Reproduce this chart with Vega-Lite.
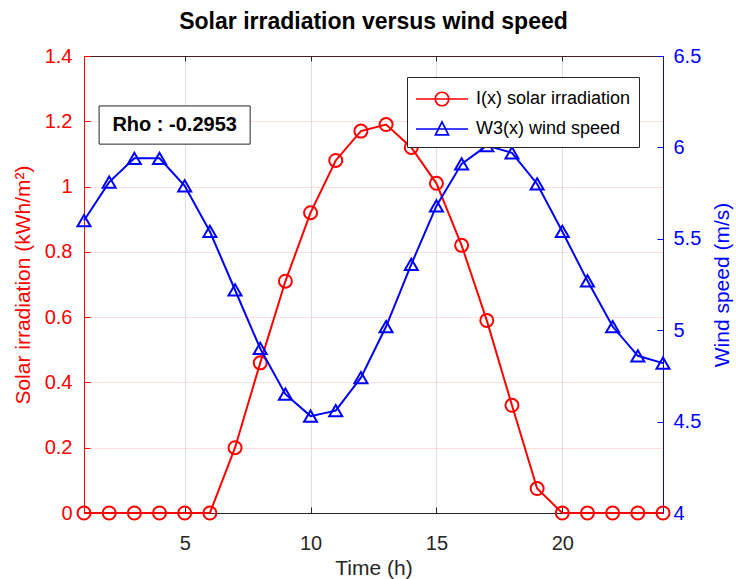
{
  "$schema": "https://vega.github.io/schema/vega-lite/v6.json",
  "width": 579,
  "height": 457,
  "autosize": {"type": "none"},
  "padding": {"left": 84, "top": 56, "right": 73, "bottom": 66},
  "background": "white",
  "title": {
    "text": "Solar irradiation versus wind speed",
    "font": "Liberation Sans",
    "fontSize": 23,
    "fontWeight": "bold",
    "color": "#000000",
    "anchor": "middle",
    "frame": "group",
    "baseline": "alphabetic",
    "offset": 25,
    "dy": 31
  },
  "config": {
    "view": {"stroke": "#262626", "strokeWidth": 1},
    "font": "Liberation Sans",
    "axis": {
      "labelFont": "Liberation Sans",
      "titleFont": "Liberation Sans",
      "labelFontSize": 20,
      "titleFontSize": 21,
      "titleFontWeight": "normal",
      "tickSize": -6,
      "tickWidth": 1,
      "domainWidth": 1,
      "labelFlush": false,
      "labelOverlap": false
    }
  },
  "data": {
    "values": [
      {"hour": 1, "series": "I(x) solar irradiation", "value": 0},
      {"hour": 2, "series": "I(x) solar irradiation", "value": 0},
      {"hour": 3, "series": "I(x) solar irradiation", "value": 0},
      {"hour": 4, "series": "I(x) solar irradiation", "value": 0},
      {"hour": 5, "series": "I(x) solar irradiation", "value": 0},
      {"hour": 6, "series": "I(x) solar irradiation", "value": 0},
      {"hour": 7, "series": "I(x) solar irradiation", "value": 0.2},
      {"hour": 8, "series": "I(x) solar irradiation", "value": 0.46},
      {"hour": 9, "series": "I(x) solar irradiation", "value": 0.71},
      {"hour": 10, "series": "I(x) solar irradiation", "value": 0.92},
      {"hour": 11, "series": "I(x) solar irradiation", "value": 1.08},
      {"hour": 12, "series": "I(x) solar irradiation", "value": 1.17},
      {"hour": 13, "series": "I(x) solar irradiation", "value": 1.19},
      {"hour": 14, "series": "I(x) solar irradiation", "value": 1.12},
      {"hour": 15, "series": "I(x) solar irradiation", "value": 1.01},
      {"hour": 16, "series": "I(x) solar irradiation", "value": 0.82},
      {"hour": 17, "series": "I(x) solar irradiation", "value": 0.59},
      {"hour": 18, "series": "I(x) solar irradiation", "value": 0.33},
      {"hour": 19, "series": "I(x) solar irradiation", "value": 0.075},
      {"hour": 20, "series": "I(x) solar irradiation", "value": 0},
      {"hour": 21, "series": "I(x) solar irradiation", "value": 0},
      {"hour": 22, "series": "I(x) solar irradiation", "value": 0},
      {"hour": 23, "series": "I(x) solar irradiation", "value": 0},
      {"hour": 24, "series": "I(x) solar irradiation", "value": 0},
      {"hour": 1, "series": "W3(x) wind speed", "value": 5.6},
      {"hour": 2, "series": "W3(x) wind speed", "value": 5.81},
      {"hour": 3, "series": "W3(x) wind speed", "value": 5.94},
      {"hour": 4, "series": "W3(x) wind speed", "value": 5.94},
      {"hour": 5, "series": "W3(x) wind speed", "value": 5.79},
      {"hour": 6, "series": "W3(x) wind speed", "value": 5.54},
      {"hour": 7, "series": "W3(x) wind speed", "value": 5.22},
      {"hour": 8, "series": "W3(x) wind speed", "value": 4.9},
      {"hour": 9, "series": "W3(x) wind speed", "value": 4.65},
      {"hour": 10, "series": "W3(x) wind speed", "value": 4.53},
      {"hour": 11, "series": "W3(x) wind speed", "value": 4.56},
      {"hour": 12, "series": "W3(x) wind speed", "value": 4.74},
      {"hour": 13, "series": "W3(x) wind speed", "value": 5.02},
      {"hour": 14, "series": "W3(x) wind speed", "value": 5.36},
      {"hour": 15, "series": "W3(x) wind speed", "value": 5.68},
      {"hour": 16, "series": "W3(x) wind speed", "value": 5.91},
      {"hour": 17, "series": "W3(x) wind speed", "value": 6.01},
      {"hour": 18, "series": "W3(x) wind speed", "value": 5.97},
      {"hour": 19, "series": "W3(x) wind speed", "value": 5.8},
      {"hour": 20, "series": "W3(x) wind speed", "value": 5.54},
      {"hour": 21, "series": "W3(x) wind speed", "value": 5.27},
      {"hour": 22, "series": "W3(x) wind speed", "value": 5.02},
      {"hour": 23, "series": "W3(x) wind speed", "value": 4.86},
      {"hour": 24, "series": "W3(x) wind speed", "value": 4.82}
    ]
  },
  "layer": [
    {
      "transform": [{"filter": "datum.series === 'I(x) solar irradiation'"}],
      "encoding": {
        "x": {
          "field": "hour",
          "type": "quantitative",
          "scale": {"domain": [1, 24], "nice": false, "zero": false},
          "axis": {
            "orient": "bottom",
            "values": [5, 10, 15, 20],
            "grid": true,
            "gridColor": "#262626",
            "gridOpacity": 0.15,
            "domainColor": "#262626",
            "tickColor": "#262626",
            "labelColor": "#262626",
            "labelPadding": 26,
            "title": "Time (h)",
            "titleColor": "#262626",
            "titleBaseline": "alphabetic",
            "titleY": 61
          }
        },
        "y": {
          "field": "value",
          "type": "quantitative",
          "scale": {"domain": [0, 1.4], "nice": false, "zero": false},
          "axis": {
            "orient": "left",
            "values": [0, 0.2, 0.4, 0.6, 0.8, 1, 1.2, 1.4],
            "format": "~g",
            "grid": true,
            "gridColor": "#ff0000",
            "gridOpacity": 0.13,
            "domainColor": "#ff0000",
            "tickColor": "#ff0000",
            "labelColor": "#ff0000",
            "labelPadding": 18,
            "title": "Solar irradiation (kWh/m²)",
            "titleColor": "#ff0000",
            "titleAngle": -90,
            "titleAlign": "center",
            "titleBaseline": "middle",
            "titleX": -61,
            "titleY": 228.5
          }
        }
      },
      "layer": [
        {"mark": {"type": "line", "color": "#ff0000", "strokeWidth": 2}},
        {"mark": {"type": "point", "shape": "circle", "color": "#ff0000", "filled": false, "size": 169, "strokeWidth": 2, "opacity": 1}}
      ]
    },
    {
      "transform": [{"filter": "datum.series === 'W3(x) wind speed'"}],
      "encoding": {
        "x": {
          "field": "hour",
          "type": "quantitative",
          "axis": {
            "orient": "top",
            "values": [5, 10, 15, 20],
            "labels": false,
            "domain": false,
            "grid": false,
            "tickColor": "#262626",
            "tickSize": -5,
            "title": null
          }
        },
        "y": {
          "field": "value",
          "type": "quantitative",
          "scale": {"domain": [4, 6.5], "nice": false, "zero": false},
          "axis": {
            "orient": "right",
            "values": [4, 4.5, 5, 5.5, 6, 6.5],
            "format": "~g",
            "grid": false,
            "domainColor": "#0000ff",
            "tickColor": "#0000ff",
            "labelColor": "#0000ff",
            "labelPadding": 16,
            "title": "Wind speed (m/s)",
            "titleColor": "#0000ff",
            "titleAngle": -90,
            "titleAlign": "center",
            "titleBaseline": "middle",
            "titleX": 59,
            "titleY": 228.5
          }
        }
      },
      "layer": [
        {"mark": {"type": "line", "color": "#0000ff", "strokeWidth": 2}},
        {"mark": {"type": "point", "shape": "triangle-up", "color": "#0000ff", "filled": false, "size": 169, "strokeWidth": 2, "opacity": 1}}
      ]
    },
    {
      "transform": [{"filter": "datum.hour > 100"}],
      "mark": {"type": "point", "filled": false, "opacity": 1},
      "encoding": {
        "color": {
          "field": "series",
          "type": "nominal",
          "scale": {
            "domain": ["I(x) solar irradiation", "W3(x) wind speed"],
            "range": ["#ff0000", "#0000ff"]
          },
          "legend": {
            "title": null,
            "orient": "none",
            "legendX": 323,
            "legendY": 21,
            "padding": 8,
            "fillColor": "white",
            "strokeColor": "#262626",
            "labelFont": "Liberation Sans",
            "labelFontSize": 18,
            "labelColor": "#000000",
            "labelOffset": 20,
            "symbolOffset": 13,
            "symbolSize": 676,
            "symbolStrokeWidth": 1.7,
            "symbolFillColor": "transparent",
            "symbolOpacity": 1,
            "rowPadding": 5
          }
        },
        "shape": {
          "field": "series",
          "type": "nominal",
          "scale": {
            "domain": ["I(x) solar irradiation", "W3(x) wind speed"],
            "range": [
              "M-2,0H2M0.52,0A0.52,0.52,0,1,1,-0.52,0A0.52,0.52,0,1,1,0.52,0",
              "M-2,0H2M0,-0.55L0.5,0.45L-0.5,0.45Z"
            ]
          }
        }
      }
    },
    {
      "data": {"values": [{"label": "Rho : -0.2953"}]},
      "encoding": {
        "y": {"scale": {"domain": [0, 1.4], "nice": false, "zero": false}}
      },
      "layer": [
        {
          "mark": {"type": "rect", "fill": "white", "stroke": "#262626", "strokeWidth": 1},
          "encoding": {
            "x": {"datum": 1.6, "type": "quantitative", "axis": null},
            "x2": {"datum": 7.6},
            "y": {"datum": 1.13, "type": "quantitative", "axis": null},
            "y2": {"datum": 1.247}
          }
        },
        {
          "mark": {"type": "text", "font": "Liberation Sans", "fontSize": 20, "fontWeight": "bold", "color": "#000000", "align": "center", "baseline": "middle"},
          "encoding": {
            "x": {"datum": 4.6, "type": "quantitative", "axis": null},
            "y": {"datum": 1.189, "type": "quantitative", "axis": null},
            "text": {"field": "label"}
          }
        }
      ]
    }
  ],
  "resolve": {"scale": {"y": "independent"}, "axis": {"x": "independent"}}
}
